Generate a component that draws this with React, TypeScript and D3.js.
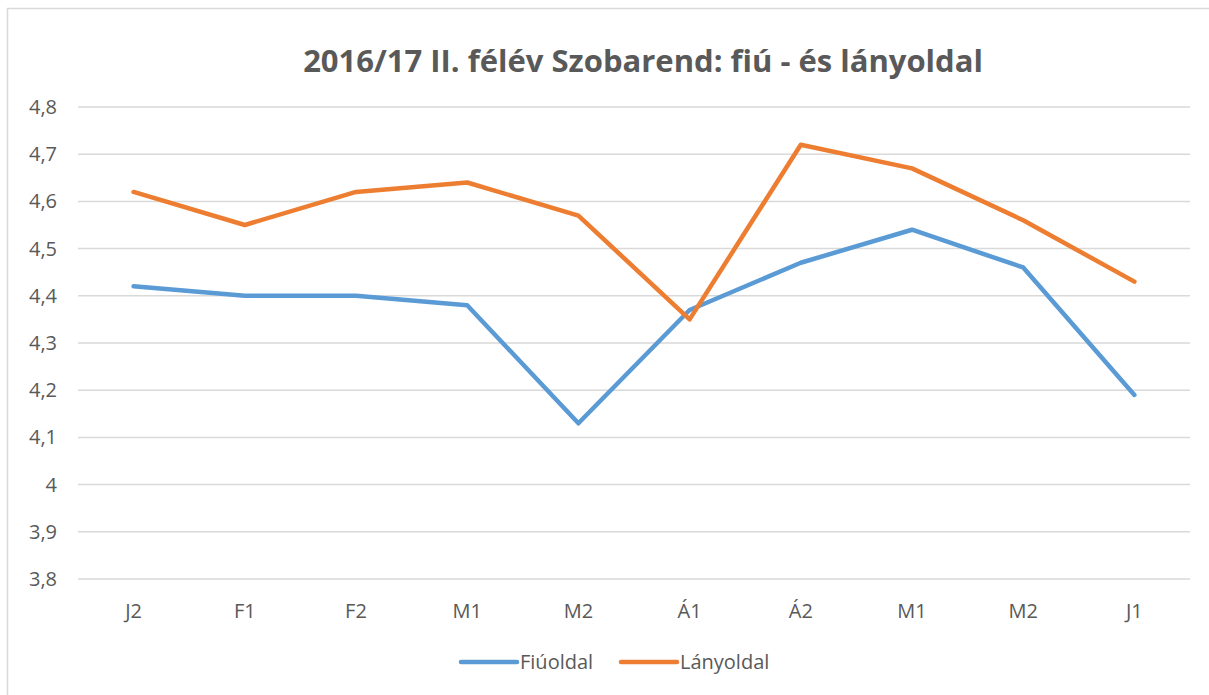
import React from "react";
import * as d3 from "d3";

const categories = ["J2", "F1", "F2", "M1", "M2", "Á1", "Á2", "M1", "M2", "J1"];
const fiuValues = [4.42, 4.4, 4.4, 4.38, 4.13, 4.37, 4.47, 4.54, 4.46, 4.19];
const lanyValues = [4.62, 4.55, 4.62, 4.64, 4.57, 4.35, 4.72, 4.67, 4.56, 4.43];
const yTicks = [3.8, 3.9, 4.0, 4.1, 4.2, 4.3, 4.4, 4.5, 4.6, 4.7, 4.8];
const seriesNames = ["Fiúoldal", "Lányoldal"];
const title = "2016/17 II. félév Szobarend: fiú - és lányoldal";

const W = 1209;
const H = 695;
const FONT = "'Open Sans', sans-serif";
const TEXT = "#595959";
const BLUE = "#5B9BD5";
const ORANGE = "#ED7D31";

export default function App() {
  const left = 78;
  const right = 1190;
  const x = d3
    .scalePoint<number>()
    .domain(d3.range(categories.length))
    .range([left, right])
    .padding(0.5);
  const y = d3.scaleLinear().domain([3.8, 4.8]).range([579, 107]);
  const line = d3
    .line<number>()
    .x((_, i) => x(i) as number)
    .y((d) => y(d));

  const series = [
    { name: seriesNames[0], values: fiuValues, color: BLUE },
    { name: seriesNames[1], values: lanyValues, color: ORANGE },
  ];

  const fmt = (v: number) => (Math.round(v * 10) / 10).toString().replace(".", ",");

  return (
    <svg
      width={W}
      height={H}
      style={{ position: "absolute", left: 0, top: 0, background: "#fff" }}
    >
      <rect x={7.5} y={8.5} width={1220} height={720} fill="#fff" stroke="#d9d9d9" strokeWidth={1.5} />
      <text
        x={643}
        y={72}
        textAnchor="middle"
        fontFamily={FONT}
        fontWeight={700}
        fontSize={31}
        fill={TEXT}
      >
        {title}
      </text>
      {yTicks.map((t) => (
        <g key={t}>
          <line x1={left} x2={right} y1={y(t)} y2={y(t)} stroke="#d9d9d9" strokeWidth={1.5} />
          <text
            x={57}
            y={y(t) + 7}
            textAnchor="end"
            fontFamily={FONT}
            fontSize={20}
            fill={TEXT}
          >
            {fmt(t)}
          </text>
        </g>
      ))}
      {categories.map((c, i) => (
        <text
          key={i}
          x={x(i) as number}
          y={618}
          textAnchor="middle"
          fontFamily={FONT}
          fontSize={20}
          fill={TEXT}
        >
          {c}
        </text>
      ))}
      {series.map((s) => (
        <path
          key={s.name}
          d={line(s.values) || ""}
          fill="none"
          stroke={s.color}
          strokeWidth={4.5}
          strokeLinejoin="round"
          strokeLinecap="round"
        />
      ))}
      {series.map((s, i) => {
        const lx = i === 0 ? 461 : 621;
        return (
          <g key={s.name}>
            <line x1={lx} x2={lx + 56} y1={662} y2={662} stroke={s.color} strokeWidth={4.5} strokeLinecap="round" />
            <text x={lx + 59} y={669} fontFamily={FONT} fontSize={20} fill={TEXT}>
              {s.name}
            </text>
          </g>
        );
      })}
    </svg>
  );
}
